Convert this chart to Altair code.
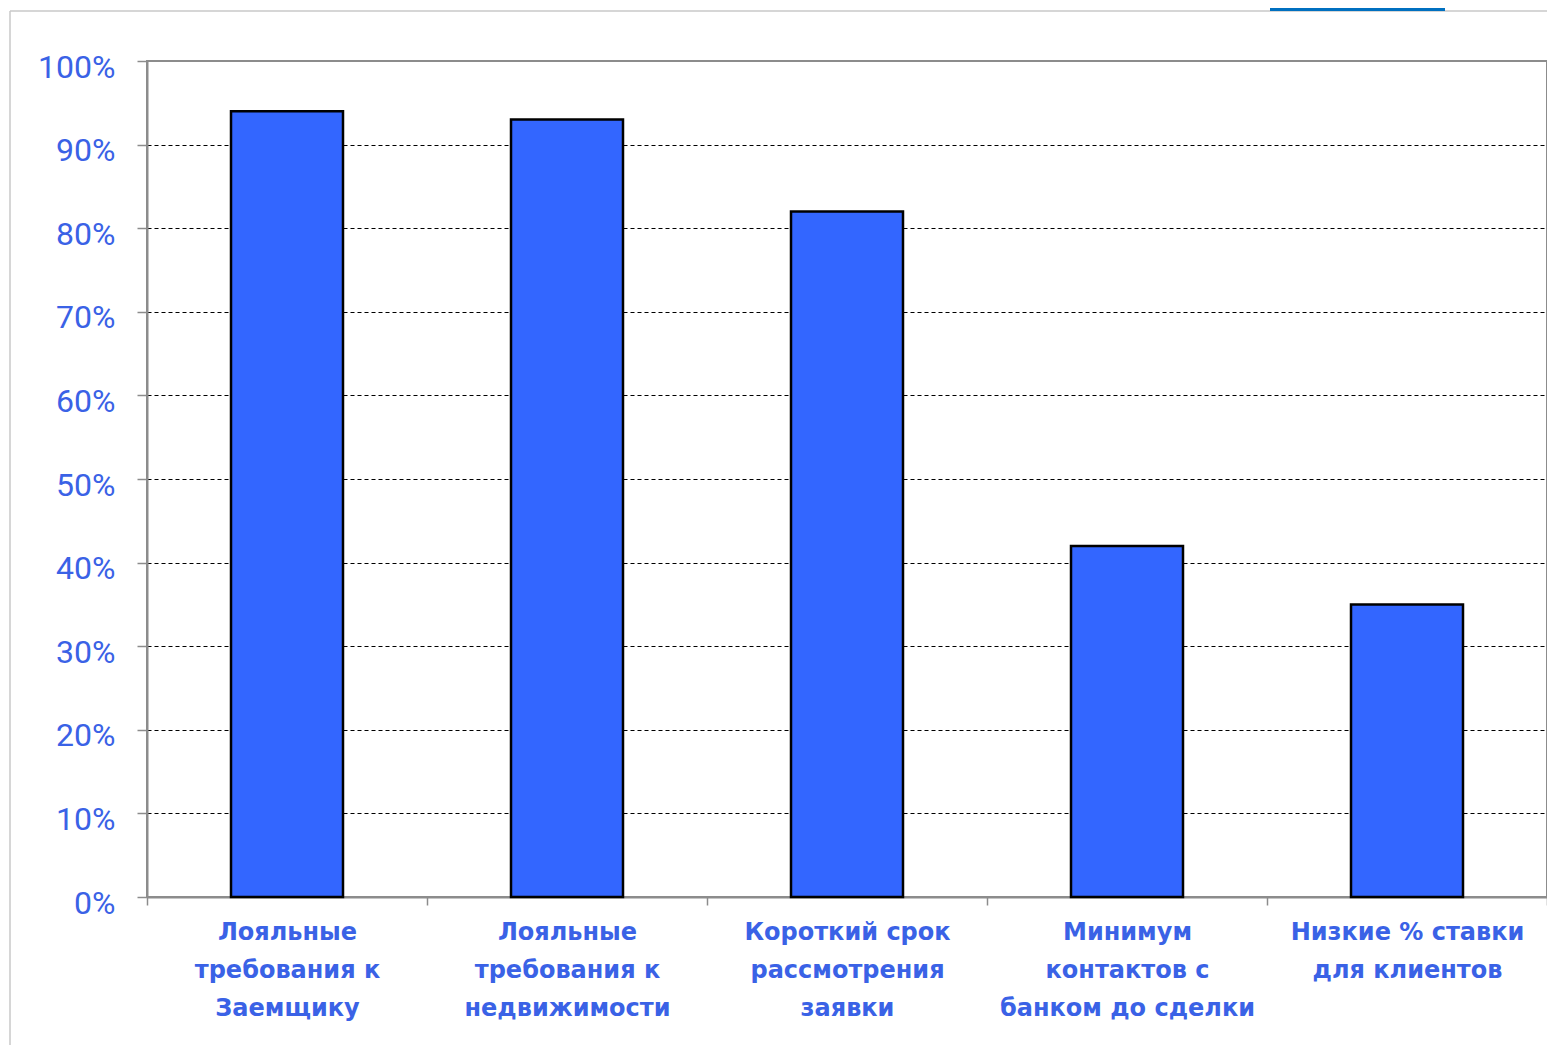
import altair as alt
import pandas as pd

categories = [
    "Лояльные|требования к|Заемщику",
    "Лояльные|требования к|недвижимости",
    "Короткий срок|рассмотрения|заявки",
    "Минимум|контактов с|банком до сделки",
    "Низкие % ставки|для клиентов",
]
values = [0.94, 0.93, 0.82, 0.42, 0.35]
y_ticks = [0, 0.1, 0.2, 0.3, 0.4, 0.5, 0.6, 0.7, 0.8, 0.9, 1.0]

df = pd.DataFrame({"cat": categories, "val": values})

BLUE_TEXT = "#3A62E6"
GRAY = "#8C8C8C"

bars = alt.Chart(df).mark_bar(
    width=alt.RelativeBandSize(0.4),
    fill="#3366FF",
    stroke="#000000",
    strokeWidth=2.5,
).encode(
    x=alt.X(
        "cat:N",
        sort=categories,
        title=None,
        scale=alt.Scale(paddingInner=0, paddingOuter=0),
        axis=alt.Axis(
            labelExpr="split(datum.label, '|')",
            labelAngle=0,
            labelFont="DejaVu Sans",
            labelFontWeight="bold",
            labelFontSize=24,
            labelColor=BLUE_TEXT,
            labelLineHeight=38,
            labelBaseline="top",
            labelPadding=15,
            labelLimit=400,
            tickBand="extent",
            tickSize=8,
            tickColor=GRAY,
            tickWidth=1.5,
            domainColor=GRAY,
            domainWidth=2,
            grid=False,
        ),
    ),
    y=alt.Y(
        "val:Q",
        title=None,
        scale=alt.Scale(domain=[0, 1], nice=False),
        axis=alt.Axis(
            values=y_ticks,
            format=".0%",
            labelFont="Roboto",
            labelFontSize=32,
            labelColor=BLUE_TEXT,
            labelPadding=22,
            labelOffset=6,
            tickSize=10,
            tickColor=GRAY,
            tickWidth=1.5,
            domainColor=GRAY,
            domainWidth=2,
            grid=True,
            gridColor="#000000",
            gridWidth=1.2,
            gridDash=[4, 3],
            gridOpacity={"condition": {"test": "datum.value <= 0 || datum.value >= 1", "value": 0}, "value": 1},
        ),
    ),
)

deco = alt.Data(values=[{}])
frame_top = alt.Chart(deco).mark_rule(color="#C8C8C8", strokeWidth=1.5).encode(
    x=alt.value(-137), x2=alt.value(1400), y=alt.value(-50)
)
frame_left = alt.Chart(deco).mark_rule(color="#C8C8C8", strokeWidth=1.5).encode(
    x=alt.value(-137), y=alt.value(-50), y2=alt.value(1000)
)
tab = alt.Chart(deco).mark_rect(color="#0070C0").encode(
    x=alt.value(1123), x2=alt.value(1298), y=alt.value(-53), y2=alt.value(-50)
)

chart = alt.layer(frame_top, frame_left, tab, bars).properties(
    width=1400,
    height=836,
    autosize=alt.AutoSizeParams(type="none"),
    padding={"left": 139, "top": 53, "right": 0, "bottom": 148},
    background="white",
).configure_view(stroke=GRAY, strokeWidth=2)

chart.save("out.html", embed_options={"renderer": "svg", "actions": False})
